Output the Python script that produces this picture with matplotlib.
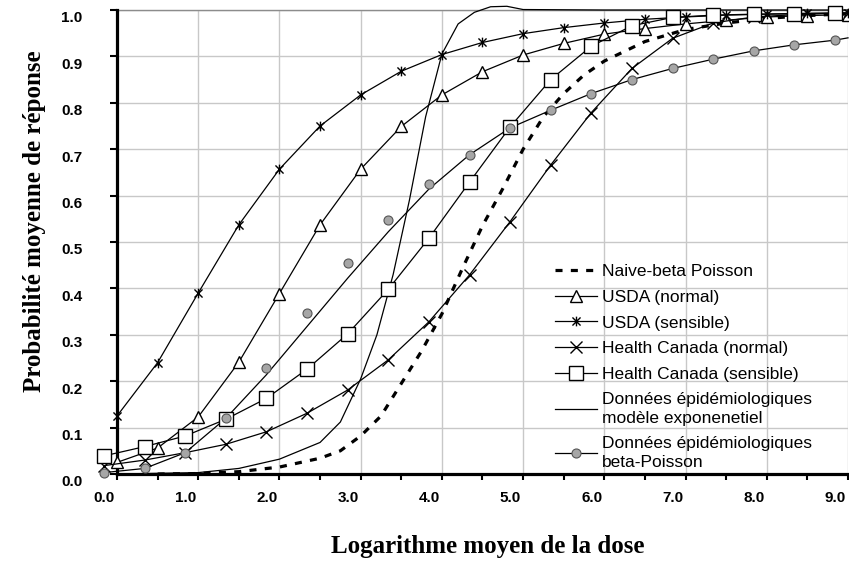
import matplotlib
matplotlib.use('Agg')
import matplotlib.pyplot as plt
from matplotlib.lines import Line2D
from matplotlib.path import Path
from matplotlib.transforms import ScaledTranslation

# USDA series (dose grid 0.0 .. 9.0)
x_usda = [0.0, 0.5, 1.0, 1.5, 2.0, 2.5, 3.0, 3.5, 4.0, 4.5, 5.0, 5.5, 6.0, 6.5, 7.0, 7.5, 8.0, 8.5, 9.0]
usda_normal = [0.025, 0.056, 0.123, 0.241, 0.389, 0.537, 0.657, 0.749, 0.817, 0.867, 0.903, 0.928, 0.948,
               0.960, 0.970, 0.978, 0.985, 0.988, 0.990]
usda_sensible = [0.125, 0.240, 0.390, 0.537, 0.657, 0.750, 0.817, 0.868, 0.904, 0.930, 0.949, 0.962, 0.972,
                 0.980, 0.985, 0.989, 0.991, 0.993, 0.994]

# Health Canada + epidemiological points (shifted dose grid)
x_hc = [-0.16, 0.34, 0.84, 1.34, 1.84, 2.34, 2.84, 3.34, 3.84, 4.34, 4.84, 5.34, 5.84, 6.34, 6.84, 7.34,
        7.84, 8.34, 8.84]
hc_normal = [0.018, 0.030, 0.046, 0.064, 0.091, 0.131, 0.181, 0.246, 0.328, 0.429, 0.544, 0.666, 0.779,
             0.874, 0.939, 0.972, 0.985, 0.990, 0.993]
hc_sensible = [0.039, 0.059, 0.082, 0.118, 0.163, 0.226, 0.302, 0.398, 0.508, 0.629, 0.748, 0.850, 0.922,
               0.966, 0.984, 0.989, 0.991, 0.992, 0.993]
epi_bp_points = [0.003, 0.012, 0.046, 0.120, 0.229, 0.346, 0.454, 0.547, 0.624, 0.688, 0.746, 0.784, 0.820,
                 0.850, 0.874, 0.894, 0.912, 0.925, 0.935]

# beta-Poisson fitted curve
x_bp_line = [-0.16, 0.34, 0.84, 1.34, 1.84, 2.34, 2.84, 3.34, 3.84, 4.34, 4.84, 5.34, 5.84, 6.34, 6.84, 7.34,
             7.84, 8.34, 8.84, 9.0]
epi_bp_line = [0.003, 0.012, 0.046, 0.120, 0.214, 0.318, 0.422, 0.522, 0.614, 0.688, 0.746, 0.784, 0.820,
               0.850, 0.874, 0.894, 0.912, 0.925, 0.935, 0.940]

# exponential model curve
x_exp = [0.0, 1.0, 1.5, 2.0, 2.5, 2.75, 3.0, 3.2, 3.4, 3.6, 3.8, 4.0, 4.2, 4.4, 4.6, 4.8, 5.0, 6.0, 7.0, 8.0,
         9.0]
epi_exp = [0.0, 0.003, 0.012, 0.032, 0.068, 0.112, 0.205, 0.300, 0.430, 0.590, 0.770, 0.905, 0.970, 0.995,
           1.007, 1.008, 1.001, 1.0, 1.0, 1.0, 1.0]

# naive beta-Poisson
x_naive = [0.5, 1.0, 1.5, 2.0, 2.5, 2.75, 3.0, 3.25, 3.5, 3.75, 4.0, 4.25, 4.5, 4.75, 5.0, 5.25, 5.5, 5.75,
           6.0, 6.5, 7.0, 7.5, 8.0, 8.5, 9.0]
naive_bp = [0.0, 0.001, 0.005, 0.015, 0.034, 0.050, 0.082, 0.125, 0.195, 0.265, 0.345, 0.442, 0.535, 0.615,
            0.700, 0.770, 0.820, 0.860, 0.890, 0.932, 0.958, 0.972, 0.982, 0.988, 0.992]

x_ticks = [0, 1, 2, 3, 4, 5, 6, 7, 8, 9]
x_ticklabels = ['0.0', '1.0', '2.0', '3.0', '4.0', '5.0', '6.0', '7.0', '8.0', '9.0']
y_ticks = [0.0, 0.1, 0.2, 0.3, 0.4, 0.5, 0.6, 0.7, 0.8, 0.9, 1.0]
y_ticklabels = ['0.0', '0.1', '0.2', '0.3', '0.4', '0.5', '0.6', '0.7', '0.8', '0.9', '1.0']

# Excel-like star marker: X with a vertical bar
star = Path([(-1, -1), (1, 1), (-1, 1), (1, -1), (0, -1.2), (0, 1.2)],
            [Path.MOVETO, Path.LINETO, Path.MOVETO, Path.LINETO, Path.MOVETO, Path.LINETO])

fig = plt.figure(figsize=(8.49, 5.62), dpi=100)
ax = fig.add_axes([117 / 849, 88 / 562, 731 / 849, 464 / 562])

lw = 0.9
ax.plot(x_naive, naive_bp, color='black', lw=2.3, linestyle=(0, (2.2, 2.6)), clip_on=False, zorder=4)
ax.plot(x_usda, usda_normal, color='black', lw=lw, marker='^', ms=9, mfc='white', mec='black', mew=1,
        clip_on=False, zorder=5)
ax.plot(x_usda, usda_sensible, color='black', lw=lw, marker=star, ms=7, mec='black', mew=1,
        clip_on=False, zorder=5)
ax.plot(x_hc, hc_normal, color='black', lw=lw, marker='x', ms=9, mec='black', mew=1,
        clip_on=False, zorder=5)
ax.plot(x_hc, hc_sensible, color='black', lw=lw, marker='s', ms=9.5, mfc='white', mec='black', mew=1,
        clip_on=False, zorder=5)
ax.plot(x_exp, epi_exp, color='black', lw=lw, clip_on=False, zorder=4)
ax.plot(x_bp_line, epi_bp_line, color='black', lw=lw, clip_on=False, zorder=4)
ax.plot(x_hc, epi_bp_points, linestyle='none', marker='o', ms=6.5, mfc='#a6a6a6', mec='#555555', mew=0.8,
        clip_on=False, zorder=5)

ax.set_xlim(0, 9)
ax.set_ylim(0, 1)
ax.set_xticks(x_ticks)
ax.set_xticks([0.5, 1.5, 2.5, 3.5, 4.5, 5.5, 6.5, 7.5, 8.5], minor=True)
ax.set_yticks(y_ticks)
tick_font = dict(family='Liberation Sans', weight='bold', size=11)
ax.set_xticklabels(x_ticklabels, fontdict=tick_font, ha='right')
ax.set_yticklabels(y_ticklabels, fontdict=tick_font)
ax.tick_params(axis='x', which='both', direction='out', length=4, width=1.5, pad=8)
ax.tick_params(axis='y', which='both', direction='out', length=5, width=1.5, pad=20)
for lab in ax.get_xticklabels():
    lab.set_transform(lab.get_transform() + ScaledTranslation(-0.02, 0, fig.dpi_scale_trans))
for lab in ax.get_yticklabels():
    lab.set_transform(lab.get_transform() + ScaledTranslation(0, -0.07, fig.dpi_scale_trans))

ax.grid(True, which='major', color='#c8c8c8', lw=1.0)
ax.set_axisbelow(True)
for side in ['left', 'bottom']:
    ax.spines[side].set_linewidth(2.3)
    ax.spines[side].set_zorder(3)
ax.spines['top'].set_color('#8c8c8c')
ax.spines['top'].set_linewidth(1.0)
ax.spines['right'].set_visible(False)

handles = [
    Line2D([], [], color='black', lw=2.3, linestyle=(0, (2.2, 2.6))),
    Line2D([], [], color='black', lw=lw, marker='^', ms=9, mfc='white', mec='black'),
    Line2D([], [], color='black', lw=lw, marker=star, ms=7, mec='black'),
    Line2D([], [], color='black', lw=lw, marker='x', ms=9, mec='black'),
    Line2D([], [], color='black', lw=lw, marker='s', ms=9.5, mfc='white', mec='black'),
    Line2D([], [], color='black', lw=lw),
    Line2D([], [], color='black', lw=lw, marker='o', ms=6.5, mfc='#a6a6a6', mec='#555555', mew=0.8),
]
labels = ['Naive-beta Poisson', 'USDA (normal)', 'USDA (sensible)', 'Health Canada (normal)',
          'Health Canada (sensible)', 'Données épidémiologiques\nmodèle exponenetiel',
          'Données épidémiologiques\nbeta-Poisson']
leg = ax.legend(handles, labels, loc='upper left', bbox_to_anchor=(0.599, 0.452), frameon=False,
                prop=dict(family='Liberation Sans', size=12.5), numpoints=1, handlelength=2.4,
                handletextpad=0.3, labelspacing=0.6, borderpad=0, borderaxespad=0)
for t in leg.get_texts():
    t.set_linespacing(1.3)

fig.text(488 / 849, 1 - 546 / 562, 'Logarithme moyen de la dose', ha='center', va='center',
         family='Liberation Serif', weight='bold', size=18)
fig.text(35 / 849, 1 - 221 / 562, 'Probabilité moyenne de réponse', ha='center', va='center',
         rotation=90, family='Liberation Serif', weight='bold', size=18)

fig.savefig('out.png', dpi=100)
